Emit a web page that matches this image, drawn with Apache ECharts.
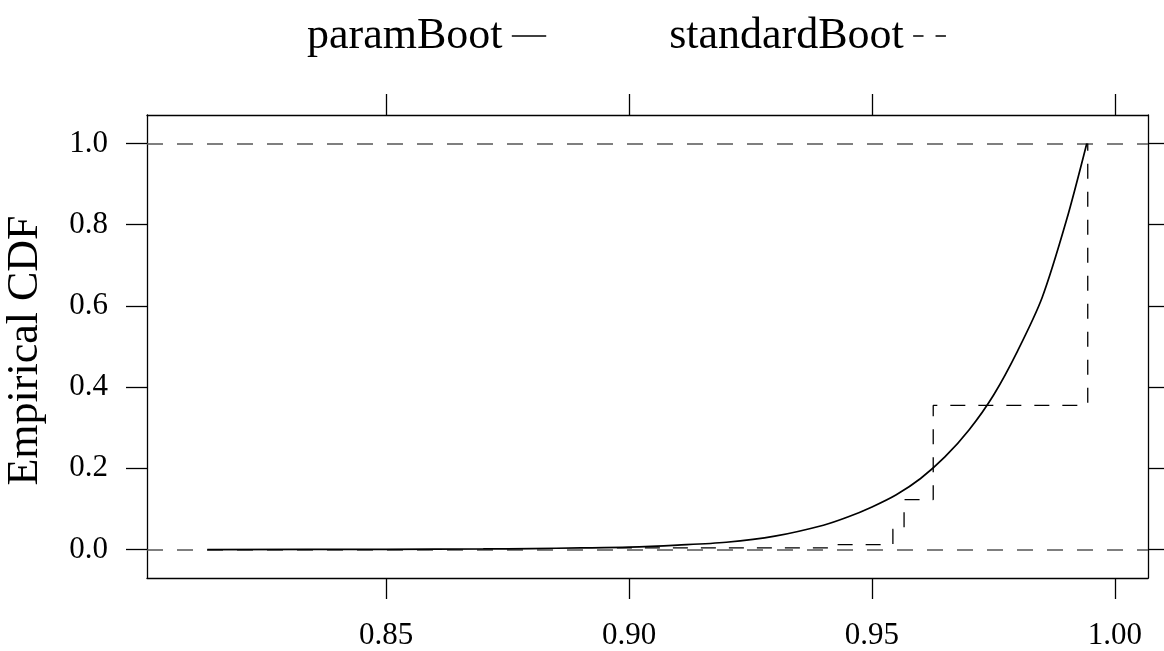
<!DOCTYPE html>
<html><head><meta charset="utf-8">
<script src="https://cdn.jsdelivr.net/npm/echarts@6/dist/echarts.min.js"></script>
<style>html,body{margin:0;padding:0;background:#fff}#c{width:1164px;height:651px}</style>
</head><body><div id="c"></div>
<script>
// ---- data ----
const seriesNames = ['paramBoot', 'standardBoot'];
const paramX = [0.8132, 0.85, 0.87, 0.88, 0.89, 0.90, 0.91, 0.92, 0.93, 0.94, 0.945, 0.95, 0.955, 0.96, 0.965, 0.97, 0.975, 0.98, 0.985, 0.99, 0.9942];
const paramY = [0, 0.0006, 0.0015, 0.0025, 0.004, 0.006, 0.011, 0.018, 0.033, 0.06, 0.08, 0.105, 0.135, 0.175, 0.228, 0.295, 0.38, 0.49, 0.62, 0.81, 1.0];
const stdX = [0.8975, 0.9418, 0.9543, 0.9566, 0.9626, 0.9944];
const stdY = [0.004, 0.012, 0.05, 0.123, 0.355, 1.0];
const xTicks = [0.85, 0.90, 0.95, 1.00];
const yTicks = [0.0, 0.2, 0.4, 0.6, 0.8, 1.0];
const refLevels = [0, 1];
const yTitle = 'Empirical CDF';

// ---- layout / style ----
const FONT = 'Liberation Serif';
const xMin = 0.8008, xMax = 1.0068, yMin = -0.07, yMax = 1.07;
const boxLine = {color: '#000', width: 1.3};

const zip = (a, b) => a.map((v, i) => [v, b[i]]);

function xAxis(pos, labels) {
  return {
    type: 'value', position: pos, min: xMin, max: xMax,
    axisLine: {show: true, onZero: false, lineStyle: boxLine},
    axisTick: {show: true, inside: false, length: 21, customValues: xTicks, lineStyle: boxLine},
    axisLabel: {show: labels, customValues: xTicks, formatter: v => v.toFixed(2),
      fontFamily: FONT, fontSize: 31, color: '#000', margin: 42},
    splitLine: {show: false}
  };
}
function yAxis(pos, labels) {
  const a = {
    type: 'value', position: pos, min: yMin, max: yMax,
    axisLine: {show: true, onZero: false, lineStyle: boxLine},
    axisTick: {show: true, inside: false, length: 21, customValues: yTicks, lineStyle: boxLine},
    axisLabel: {show: labels, customValues: yTicks, formatter: v => v.toFixed(1),
      fontFamily: FONT, fontSize: 31, color: '#000', margin: 39},
    splitLine: {show: false}
  };
  if (labels) {
    a.name = yTitle;
    a.nameLocation = 'middle';
    a.nameGap = 100;
    a.nameTextStyle = {fontFamily: FONT, fontSize: 44, color: '#000', padding: [0, 8, 0, 0]};
  }
  return a;
}

const solidIcon = 'path://M0,0L43,0L43,2L0,2Z';
const dashIcon = 'path://M0,0L13,0L13,2L0,2Z M28,0L41,0L41,2L28,2Z M43,0L43,2';

const chart = echarts.init(document.getElementById('c'), null, {renderer: 'canvas'});
chart.setOption({
  animation: false,
  backgroundColor: '#fff',
  grid: {left: 147, right: 16, top: 115, bottom: 73, containLabel: false, outerBoundsMode: 'none'},
  legend: {
    data: [{name: seriesNames[0], icon: solidIcon}, {name: seriesNames[1], icon: dashIcon}],
    left: 302, top: 9, align: 'right',
    itemWidth: 43, itemHeight: 1.6, itemGap: 123,
    itemStyle: {color: '#000'},
    textStyle: {fontFamily: FONT, fontSize: 44, color: '#000'}
  },
  xAxis: [xAxis('bottom', true), xAxis('top', false)],
  yAxis: [yAxis('left', true), yAxis('right', false)],
  series: [
    {
      name: seriesNames[0], type: 'line', xAxisIndex: 0, yAxisIndex: 0,
      data: zip(paramX, paramY), symbol: 'none', smooth: 0.3,
      lineStyle: {color: '#000', width: 1.7}, itemStyle: {color: '#000'}, z: 3
    },
    {
      name: seriesNames[1], type: 'line', xAxisIndex: 0, yAxisIndex: 0,
      data: zip(stdX, stdY), symbol: 'none', step: 'end',
      lineStyle: {color: '#000', width: 1.3, type: [15, 13]}, itemStyle: {color: '#000'}, z: 3,
      markLine: {
        silent: true, symbol: ['none', 'none'], label: {show: false},
        lineStyle: {color: '#555', width: 1.6, type: [16, 14]},
        data: refLevels.map(v => ({yAxis: v})), z: 1
      }
    }
  ]
});
</script></body></html>
